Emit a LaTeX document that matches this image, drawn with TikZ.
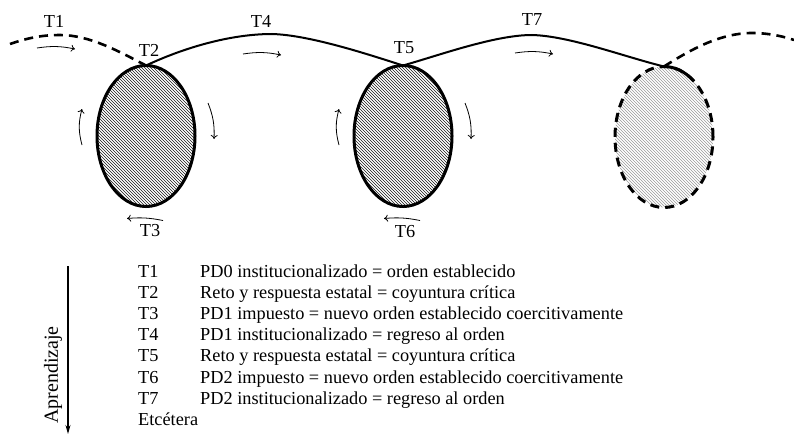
\documentclass[tikz,border=0pt]{standalone}
\usepackage{fontspec}
\setmainfont{Liberation Serif}
\usetikzlibrary{shapes.geometric,patterns,arrows.meta}

\begin{document}
\begin{tikzpicture}[x=1pt, y=1pt,
    every node/.style={font=\fontsize{18.3}{21.2}\selectfont, inner sep=0pt},
    phase/.style={ellipse, draw, line width=3pt, outer sep=0pt,
                  minimum width=98pt, minimum height=141pt,
                  pattern=north west lines, pattern color=black!90},
    open phase/.style={phase, dash pattern=on 9pt off 6pt,
                       pattern color=black!40},
    path line/.style={line width=2pt},
    gap line/.style={line width=2.6pt, dash pattern=on 9pt off 6pt},
    turn/.style={line width=0.8pt, -{To[length=4pt, width=7pt]}}]

  \useasboundingbox (0,0) rectangle (794,-436);

  % the three cycles
  \node[phase] (phase1) at (146,-136) {};
  \node[phase] (phase2) at (403,-136) {};
  \node[open phase] (phase3) at (664,-137) {};

  % crests of the path between the cycles
  \coordinate (start) at (10,-44);
  \coordinate (crest0) at (60,-35);
  \coordinate (crest1) at (272,-34);
  \coordinate (crest2) at (532,-35);
  \coordinate (crest3) at (752,-33);
  \coordinate (tail) at (794,-40);

  \draw[gap line] (start) .. controls (30,-37) and (45,-35) .. (crest0)
                  .. controls (90,-35) and (120,-52) .. (phase1.north);
  \draw[path line] (phase1.north) .. controls (190,-45) and (235,-34) .. (crest1)
                   .. controls (310,-35) and (370,-55) .. (phase2.north)
                   .. controls (440,-55) and (495,-35) .. (crest2)
                   .. controls (570,-36) and (625,-57) .. (phase3.north);
  \draw[line width=3pt] (phase3.north)
        arc[start angle=90, end angle=53, x radius=49, y radius=70.5];
  \draw[gap line] (phase3.north) .. controls (690,-50) and (720,-33) .. (crest3)
                  .. controls (770,-33) and (785,-37) .. (tail);

  % stage labels
  \foreach \name/\x/\y in {T1/54/21, T2/149/50, T3/150/231, T4/261/21,
                           T5/404/48, T6/405/232, T7/532/20}
    \node (label \name) at (\x,-\y) {\name};

  % turning arrows round the cycles
  \foreach \c in {1,2} {
    \draw[turn] ([shift={(-15,-9)}]phase\c.west) to[bend left=15]
                ([shift={(-15,27)}]phase\c.west);
    \draw[turn] ([shift={(13,33)}]phase\c.east) to[bend left=12]
                ([shift={(19,-3)}]phase\c.east);
    \draw[turn] ([shift={(17,-14)}]phase\c.south) to[bend right=8]
                ([shift={(-19,-12)}]phase\c.south);
  }

  % arrows along the path
  \foreach \x/\y in {37/48, 243/54, 515/53}
    \draw[turn] (\x,-\y) to[bend left=10] ++(38,-1);

  % legend
  \foreach \key/\txt [count=\i] in {
      T1/PD0 institucionalizado = orden establecido,
      T2/Reto y respuesta estatal = coyuntura crítica,
      T3/PD1 impuesto = nuevo orden establecido coercitivamente,
      T4/PD1 institucionalizado = regreso al orden,
      T5/Reto y respuesta estatal = coyuntura crítica,
      T6/PD2 impuesto = nuevo orden establecido coercitivamente,
      T7/PD2 institucionalizado = regreso al orden} {
    \node[anchor=base west] (key\i) at (138,{-255.8-21.2*\i}) {\key};
    \node[anchor=base west] (text\i) at (200,{-255.8-21.2*\i}) {\txt};
  }
  \node[anchor=base west] (key8) at (138,{-255.8-21.2*8}) {Etcétera};

  % learning axis
  \coordinate (learn top) at (68,-266);
  \coordinate (learn tip) at (68,-434);
  \draw[line width=1.2pt, -{Stealth[length=9pt, width=5pt]}] (learn top) -- (learn tip);
  \node[rotate=90, font=\fontsize{20}{24}\selectfont] (learn) at (53,-375) {Aprendizaje};

\end{tikzpicture}
\end{document}
